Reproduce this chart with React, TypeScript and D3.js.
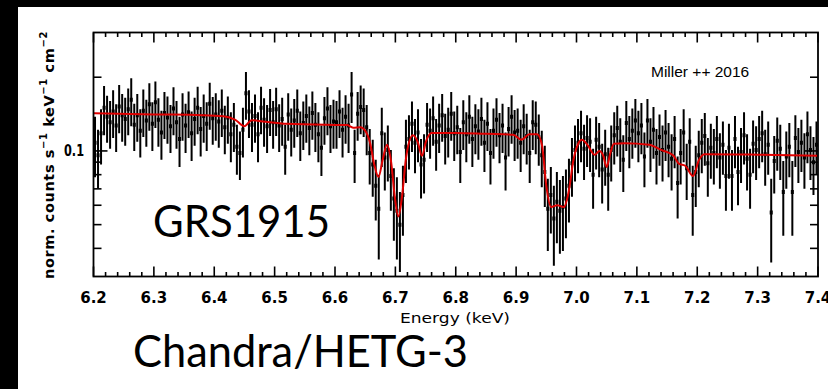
import React from "react";
import * as d3 from "d3";

const W = 828;
const H = 389;

// Spectral grid: 240 bins of 5 eV starting at 6.2 keV
const energyStart = 6.2;
const binWidth = 0.005;

// Observed flux per bin (norm. counts s^-1 keV^-1 cm^-2)
const flux = [
  0.108, 0.096, 0.118, 0.150, 0.138, 0.131, 0.145, 0.127, 0.152, 0.140,
  0.135, 0.148, 0.162, 0.128, 0.140, 0.121, 0.146, 0.133, 0.155, 0.129,
  0.158, 0.134, 0.119, 0.143, 0.137, 0.126, 0.149, 0.131, 0.112, 0.141,
  0.127, 0.144, 0.118, 0.135, 0.150, 0.123, 0.139, 0.129, 0.156, 0.136,
  0.141, 0.132, 0.146, 0.125, 0.137, 0.117, 0.128, 0.104, 0.098, 0.122,
  0.172, 0.145, 0.128, 0.139, 0.117, 0.150, 0.134, 0.126, 0.147, 0.131,
  0.148, 0.127, 0.135, 0.104, 0.141, 0.122, 0.133, 0.146, 0.118, 0.130,
  0.139, 0.124, 0.143, 0.128, 0.117, 0.103, 0.136, 0.149, 0.126, 0.132,
  0.131, 0.145, 0.122, 0.138, 0.127, 0.170, 0.098, 0.142, 0.151, 0.147,
  0.125, 0.098, 0.088, 0.072, 0.058, 0.118, 0.094, 0.101, 0.079, 0.064,
  0.057, 0.050, 0.066, 0.104, 0.112, 0.129, 0.108, 0.119, 0.088, 0.092,
  0.128, 0.121, 0.136, 0.109, 0.127, 0.140, 0.115, 0.122, 0.142, 0.118,
  0.125, 0.099, 0.131, 0.117, 0.138, 0.112, 0.126, 0.120, 0.135, 0.108,
  0.129, 0.098, 0.121, 0.134, 0.116, 0.127, 0.094, 0.123, 0.138, 0.119,
  0.121, 0.108, 0.126, 0.115, 0.098, 0.131, 0.128, 0.114, 0.096, 0.082,
  0.058, 0.066, 0.053, 0.062, 0.057, 0.059, 0.064, 0.072, 0.089, 0.101,
  0.108, 0.118, 0.102, 0.113, 0.109, 0.080, 0.111, 0.104, 0.084, 0.097,
  0.080, 0.101, 0.116, 0.124, 0.109, 0.092, 0.130, 0.112, 0.121, 0.133,
  0.118, 0.127, 0.095, 0.133, 0.109, 0.122, 0.098, 0.114, 0.101, 0.119,
  0.104, 0.093, 0.112, 0.074, 0.098, 0.119, 0.085, 0.109, 0.066, 0.082,
  0.096, 0.108, 0.115, 0.089, 0.103, 0.098, 0.112, 0.094, 0.106, 0.079,
  0.103, 0.079, 0.112, 0.082, 0.099, 0.116, 0.093, 0.080, 0.107, 0.101,
  0.112, 0.118, 0.097, 0.106, 0.056, 0.091, 0.110, 0.102, 0.068, 0.095,
  0.104, 0.068, 0.113, 0.099, 0.108, 0.094, 0.117, 0.101, 0.090, 0.106,
];

// 1-sigma uncertainty per bin
const fluxErr = [
  0.030, 0.026, 0.030, 0.034, 0.030, 0.029, 0.032, 0.028, 0.034, 0.031,
  0.030, 0.032, 0.036, 0.028, 0.031, 0.027, 0.032, 0.029, 0.034, 0.029,
  0.034, 0.030, 0.027, 0.031, 0.030, 0.028, 0.033, 0.029, 0.026, 0.031,
  0.029, 0.031, 0.027, 0.030, 0.033, 0.028, 0.031, 0.029, 0.034, 0.030,
  0.031, 0.029, 0.032, 0.028, 0.030, 0.027, 0.029, 0.024, 0.022, 0.028,
  0.038, 0.032, 0.029, 0.031, 0.027, 0.033, 0.030, 0.028, 0.032, 0.029,
  0.033, 0.028, 0.030, 0.024, 0.031, 0.027, 0.030, 0.032, 0.027, 0.029,
  0.031, 0.028, 0.032, 0.029, 0.027, 0.024, 0.030, 0.033, 0.028, 0.030,
  0.029, 0.032, 0.028, 0.031, 0.029, 0.040, 0.024, 0.032, 0.034, 0.033,
  0.029, 0.025, 0.023, 0.020, 0.022, 0.032, 0.025, 0.026, 0.022, 0.021,
  0.021, 0.018, 0.021, 0.030, 0.028, 0.030, 0.027, 0.029, 0.024, 0.025,
  0.029, 0.028, 0.031, 0.026, 0.029, 0.031, 0.027, 0.028, 0.032, 0.027,
  0.028, 0.025, 0.030, 0.027, 0.031, 0.026, 0.029, 0.028, 0.030, 0.026,
  0.029, 0.025, 0.028, 0.030, 0.027, 0.029, 0.025, 0.028, 0.031, 0.028,
  0.028, 0.026, 0.029, 0.027, 0.024, 0.030, 0.031, 0.027, 0.025, 0.023,
  0.019, 0.020, 0.019, 0.020, 0.019, 0.020, 0.020, 0.021, 0.024, 0.026,
  0.027, 0.028, 0.026, 0.027, 0.027, 0.022, 0.027, 0.026, 0.023, 0.025,
  0.023, 0.026, 0.028, 0.029, 0.027, 0.024, 0.030, 0.027, 0.028, 0.030,
  0.028, 0.030, 0.024, 0.030, 0.027, 0.029, 0.025, 0.027, 0.026, 0.028,
  0.026, 0.024, 0.027, 0.021, 0.025, 0.029, 0.022, 0.027, 0.021, 0.023,
  0.025, 0.027, 0.028, 0.024, 0.026, 0.025, 0.027, 0.024, 0.026, 0.022,
  0.026, 0.022, 0.027, 0.022, 0.025, 0.028, 0.024, 0.022, 0.026, 0.025,
  0.027, 0.028, 0.025, 0.026, 0.021, 0.024, 0.027, 0.026, 0.023, 0.025,
  0.026, 0.023, 0.027, 0.025, 0.026, 0.024, 0.028, 0.025, 0.024, 0.026,
];

// Best-fit absorption model (energy in keV, flux)
const modelEnergy = [
  6.2, 6.3, 6.38, 6.415, 6.435, 6.45, 6.462, 6.48, 6.52, 6.6,
  6.62, 6.63, 6.642, 6.65, 6.658, 6.665, 6.672, 6.679, 6.686, 6.693,
  6.699, 6.705, 6.711, 6.718, 6.729, 6.737, 6.744, 6.751, 6.76, 6.8,
  6.85, 6.895, 6.909, 6.922, 6.935, 6.943, 6.95, 6.958, 6.968, 6.979,
  6.987, 6.995, 7.002, 7.009, 7.018, 7.03, 7.038, 7.044, 7.05, 7.056,
  7.062, 7.08, 7.12, 7.14, 7.16, 7.17, 7.18, 7.193, 7.203, 7.212,
  7.3, 7.4,
];
const modelFlux = [
  0.1425, 0.141, 0.14, 0.1385, 0.134, 0.1262, 0.1335, 0.132, 0.129, 0.1277,
  0.1275, 0.1245, 0.125, 0.121, 0.108, 0.088, 0.0783, 0.092, 0.106, 0.09,
  0.065, 0.054, 0.065, 0.095, 0.116, 0.109, 0.0955, 0.11, 0.1185, 0.1185,
  0.1175, 0.1165, 0.111, 0.117, 0.117, 0.105, 0.072, 0.059, 0.06, 0.059,
  0.068, 0.092, 0.106, 0.111, 0.106, 0.0965, 0.1, 0.096, 0.086, 0.098,
  0.107, 0.1075, 0.106, 0.101, 0.096, 0.0885, 0.087, 0.079, 0.092, 0.097,
  0.0965, 0.0955,
];

const xMajorTicks = [6.2, 6.3, 6.4, 6.5, 6.6, 6.7, 6.8, 6.9, 7.0, 7.1, 7.2, 7.3, 7.4];
const xTickLabels = ["6.2", "6.3", "6.4", "6.5", "6.6", "6.7", "6.8", "6.9", "7.0", "7.1", "7.2", "7.3", "7.4"];
const yMajorTicks = [0.1];
const yTickLabels = ["0.1"];
const yMinorTicks = [0.04, 0.05, 0.06, 0.07, 0.08, 0.09, 0.2];

const plot = { left: 93.5, right: 818, top: 32.5, bottom: 276.5 };

export default function App() {
  const x = d3.scaleLinear().domain([6.2, 7.4]).range([plot.left, plot.right]);
  const y = d3.scaleLog().domain([0.0307, 0.3046]).range([plot.bottom, plot.top]);

  const bins = flux.map((v, i) => ({
    e: energyStart + binWidth * (i + 0.5),
    v,
    err: fluxErr[i],
  }));

  const modelLine = d3
    .line<number>()
    .x((_, i) => x(modelEnergy[i]))
    .y((d) => y(d))
    .curve(d3.curveMonotoneX);

  const xMinor = x.ticks(60).filter(
    (t) => !xMajorTicks.some((m) => Math.abs(m - t) < 1e-6)
  );

  const tickFont = "'DejaVu Sans', sans-serif";

  return (
    <svg
      width={W}
      height={H}
      style={{ position: "absolute", left: 0, top: 0, display: "block" }}
    >
      <rect x={0} y={0} width={W} height={H} fill="#000" />
      <rect x={18} y={7} width={W - 18} height={H - 7} fill="#fff" />

      <defs>
        <clipPath id="plotArea">
          <rect
            x={plot.left}
            y={plot.top}
            width={plot.right - plot.left}
            height={plot.bottom - plot.top}
          />
        </clipPath>
      </defs>

      {/* data points with error bars */}
      <g clipPath="url(#plotArea)" stroke="#000">
        {bins.map((b, i) => (
          <g key={i}>
            <line
              x1={x(b.e)}
              x2={x(b.e)}
              y1={y(b.v - b.err)}
              y2={y(b.v + b.err)}
              strokeWidth={2}
            />
            <line
              x1={x(b.e - binWidth / 2)}
              x2={x(b.e + binWidth / 2)}
              y1={y(b.v)}
              y2={y(b.v)}
              strokeWidth={4}
            />
          </g>
        ))}
      </g>

      {/* model */}
      <path
        d={modelLine(modelFlux) || ""}
        fill="none"
        stroke="#e00000"
        strokeWidth={2}
        clipPath="url(#plotArea)"
      />

      {/* frame */}
      <rect
        x={plot.left}
        y={plot.top}
        width={plot.right - plot.left}
        height={plot.bottom - plot.top}
        fill="none"
        stroke="#000"
        strokeWidth={1.8}
      />

      {/* x ticks, top and bottom */}
      <g stroke="#000" strokeWidth={1.6}>
        {xMajorTicks.map((t) => (
          <g key={"M" + t}>
            <line x1={x(t)} x2={x(t)} y1={plot.bottom} y2={plot.bottom - 10} />
            <line x1={x(t)} x2={x(t)} y1={plot.top} y2={plot.top + 10} />
          </g>
        ))}
        {xMinor.map((t) => (
          <g key={"m" + t}>
            <line x1={x(t)} x2={x(t)} y1={plot.bottom} y2={plot.bottom - 4.5} />
            <line x1={x(t)} x2={x(t)} y1={plot.top} y2={plot.top + 4.5} />
          </g>
        ))}
      </g>

      {/* y ticks, left and right */}
      <g stroke="#000" strokeWidth={1.6}>
        {yMajorTicks.map((t) => (
          <g key={"M" + t}>
            <line x1={plot.left} x2={plot.left + 14} y1={y(t)} y2={y(t)} />
            <line x1={plot.right} x2={plot.right - 14} y1={y(t)} y2={y(t)} />
          </g>
        ))}
        {yMinorTicks.map((t) => (
          <g key={"m" + t}>
            <line x1={plot.left} x2={plot.left + 8} y1={y(t)} y2={y(t)} />
            <line x1={plot.right} x2={plot.right - 8} y1={y(t)} y2={y(t)} />
          </g>
        ))}
      </g>

      {/* tick labels */}
      <g fontFamily={tickFont} fontWeight="bold" fontSize={15} fill="#000">
        {xMajorTicks.map((t, i) => (
          <text key={t} x={x(t)} y={303} textAnchor="middle">
            {xTickLabels[i]}
          </text>
        ))}
        {yMajorTicks.map((t, i) => (
          <text
            key={t}
            x={84}
            y={y(t) + 5.5}
            textAnchor="end"
            textLength={20}
            lengthAdjust="spacingAndGlyphs"
          >
            {yTickLabels[i]}
          </text>
        ))}
      </g>

      {/* axis titles */}
      <text
        x={455}
        y={323}
        textAnchor="middle"
        fontFamily={tickFont}
        fontSize={14}
        textLength={110}
        lengthAdjust="spacingAndGlyphs"
      >
        Energy (keV)
      </text>
      <text
        transform="translate(54,155) rotate(-90)"
        textAnchor="middle"
        fontFamily={tickFont}
        fontWeight="bold"
        fontSize={14.5}
        letterSpacing={0.6}
      >
        norm. counts s
        <tspan fontSize={10} dy={-7}>−1</tspan>
        <tspan dy={7}> keV</tspan>
        <tspan fontSize={10} dy={-7}>−1</tspan>
        <tspan dy={7}> cm</tspan>
        <tspan fontSize={10} dy={-7}>−2</tspan>
      </text>

      {/* annotations */}
      <text x={651} y={77} fontFamily="'Liberation Sans', Arial, sans-serif" fontSize={15.5}>
        Miller ++ 2016
      </text>
      <text
        x={153}
        y={237}
        fontFamily="Lato, sans-serif"
        fontSize={44.5}
        textLength={177}
        lengthAdjust="spacingAndGlyphs"
      >
        GRS1915
      </text>
      <text
        x={133}
        y={367}
        fontFamily="Lato, sans-serif"
        fontSize={44.5}
        textLength={335}
        lengthAdjust="spacingAndGlyphs"
      >
        Chandra/HETG-3
      </text>
    </svg>
  );
}
